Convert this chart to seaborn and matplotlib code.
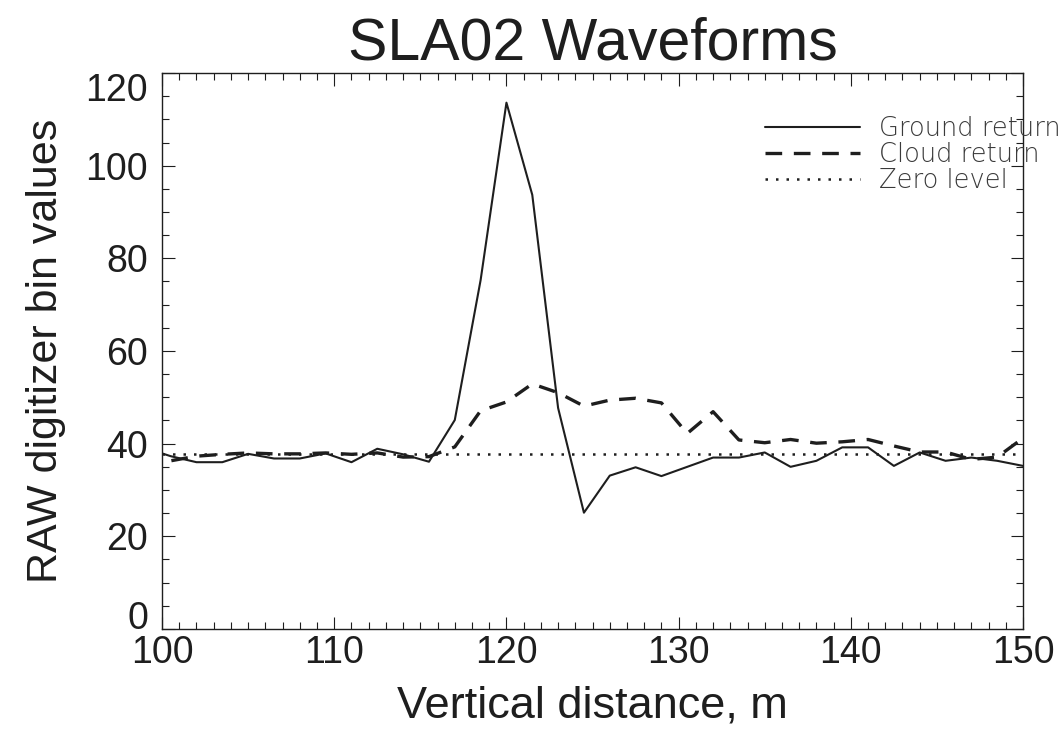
import numpy as np
import pandas as pd
import matplotlib
matplotlib.use("Agg")
import matplotlib.pyplot as plt
from matplotlib.ticker import MultipleLocator
import seaborn as sns

# ---- data ----
distance = [99.0, 100.5, 102.0, 103.5, 105.0, 106.5, 108.0, 109.5, 111.0, 112.5,
            114.0, 115.5, 117.0, 118.5, 120.0, 121.5, 123.0, 124.5, 126.0, 127.5,
            129.0, 130.5, 132.0, 133.5, 135.0, 136.5, 138.0, 139.5, 141.0, 142.5,
            144.0, 145.5, 147.0, 148.5, 150.0]
ground_return = [39.1, 37.3, 36.0, 36.0, 37.8, 36.8, 36.8, 37.9, 36.0, 38.9,
                 37.7, 36.1, 45.1, 75.3, 113.6, 93.7, 47.7, 25.1, 33.1, 34.9,
                 33.0, 35.0, 37.0, 37.0, 38.1, 35.0, 36.3, 39.2, 39.2, 35.2,
                 38.1, 36.3, 37.0, 36.3, 35.2]
cloud_return = [34.2, 36.3, 37.3, 37.7, 38.0, 37.8, 37.8, 38.0, 37.7, 38.0,
                37.1, 37.2, 39.3, 47.1, 49.0, 52.9, 51.0, 48.1, 49.4, 49.8,
                48.8, 42.2, 46.9, 40.8, 40.2, 40.9, 40.1, 40.4, 40.9, 39.5,
                38.2, 38.2, 36.6, 37.1, 41.2]
zero_level = 37.7
x_range = [100, 150]
y_range = [0, 120]
labels = ["Ground return", "Cloud return", "Zero level"]
title = "SLA02 Waveforms"
xlabel = "Vertical distance, m"
ylabel = "RAW digitizer bin values"

df = pd.DataFrame({"distance": distance, "ground": ground_return, "cloud": cloud_return})
zdf = pd.DataFrame({"distance": x_range, "zero": [zero_level, zero_level]})

sns.set_style("ticks")
plt.rcParams["font.family"] = ["Liberation Sans", "DejaVu Sans"]

ink = "#1e1e1e"
fig = plt.figure(figsize=(10.64, 7.33), dpi=100)
ax = fig.add_axes([0.1523, 0.1419, 0.8092, 0.7585])

sns.lineplot(data=df, x="distance", y="ground", ax=ax, color=ink, lw=1.5,
             label=labels[0], sort=True)
sns.lineplot(data=df, x="distance", y="cloud", ax=ax, color=ink, lw=2.4,
             label=labels[1], sort=True)
sns.lineplot(data=zdf, x="distance", y="zero", ax=ax, color=ink, lw=1.8,
             label=labels[2])
ax.lines[1].set_dashes((5, 3.5))
ax.lines[2].set_dashes((1, 3.2))

ax.set_xlim(*x_range)
ax.set_ylim(*y_range)
ax.xaxis.set_major_locator(MultipleLocator(10))
ax.xaxis.set_minor_locator(MultipleLocator(1))
ax.yaxis.set_major_locator(MultipleLocator(20))
ax.yaxis.set_minor_locator(MultipleLocator(5))
ax.tick_params(which="both", direction="in", top=True, right=True,
               colors=ink, width=0.8, labelsize=27, labelcolor=ink)
ax.tick_params(which="major", length=9)
ax.tick_params(which="minor", length=5)
ax.tick_params(axis="x", pad=4)
ax.tick_params(axis="y", pad=10)
for sp in ax.spines.values():
    sp.set_color(ink)
    sp.set_linewidth(1.0)

# end labels of the y axis sit inside the frame, as in the reference
fig.canvas.draw()
for lab in ax.get_yticklabels():
    if lab.get_text() == "0":
        lab.set_verticalalignment("baseline")
    elif lab.get_text() == "120":
        lab.set_verticalalignment("top")

ax.set_title(title, fontsize=42.5, color=ink, pad=10)
ax.set_xlabel(xlabel, fontsize=32.5, color=ink, va="center")
ax.set_ylabel(ylabel, fontsize=31, color=ink, va="center")
ax.xaxis.set_label_coords(0.5, -0.138)
ax.yaxis.set_label_coords(-0.135, 0.5)

leg = ax.legend(loc="upper left", bbox_to_anchor=(0.719, 0.842),
                bbox_transform=fig.transFigure, frameon=False,
                handlelength=3.7, handletextpad=0.75, labelspacing=0.05,
                borderpad=0, borderaxespad=0,
                prop={"family": "DejaVu Sans", "weight": "light", "size": 18.5})
for t in leg.get_texts():
    t.set_color("#3a3a3a")

fig.savefig("out.png", dpi=100)
